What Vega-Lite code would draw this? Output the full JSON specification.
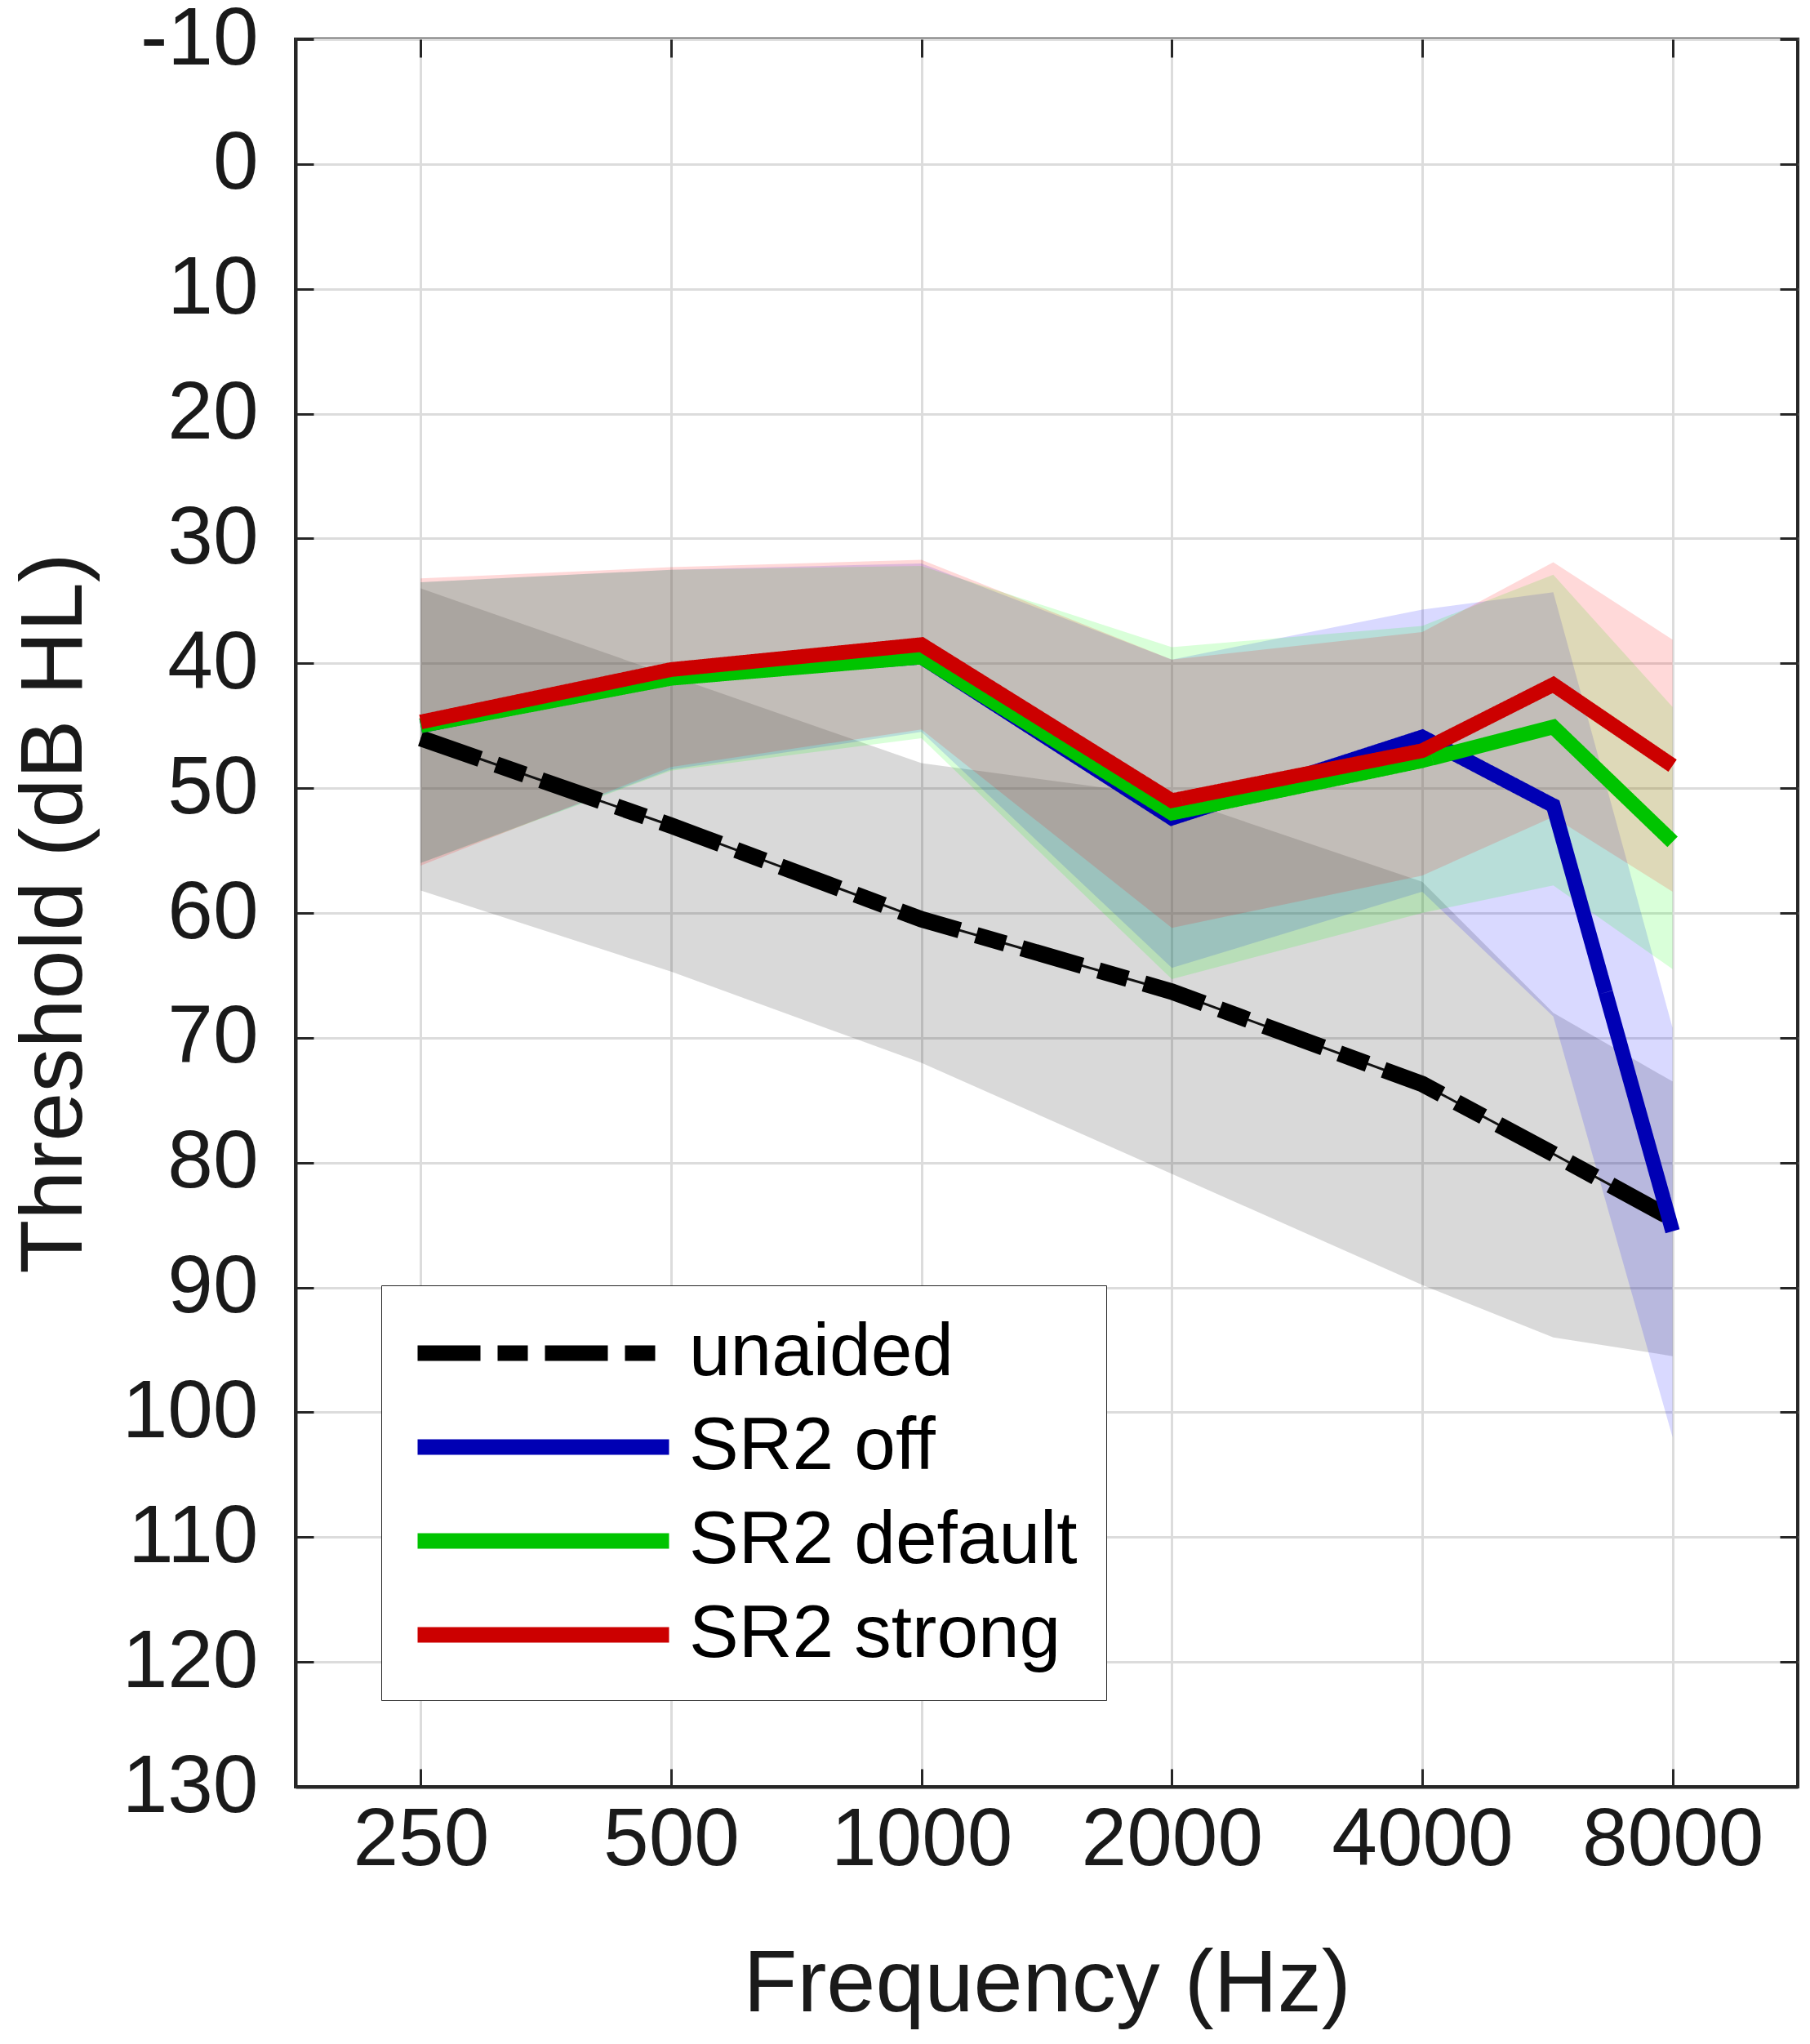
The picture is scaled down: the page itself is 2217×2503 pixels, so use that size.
{
  "$schema": "https://vega.github.io/schema/vega-lite/v6.json",
  "width": 1840,
  "height": 2140,
  "autosize": {"type": "none"},
  "padding": {"left": 362, "top": 48, "right": 15, "bottom": 315},
  "background": "white",
  "config": {
    "font": "Liberation Sans",
    "view": {"stroke": "#262626", "strokeWidth": 4},
    "axis": {
      "domainColor": "#262626",
      "domainWidth": 4,
      "gridColor": "#dcdcdc",
      "gridWidth": 3,
      "tickColor": "#262626",
      "tickWidth": 3,
      "tickSize": -22,
      "labelFont": "Liberation Sans",
      "labelFontSize": 100,
      "labelColor": "#1a1a1a",
      "labelLimit": 600,
      "labelExpr": "'' + datum.value",
      "titleFont": "Liberation Sans",
      "titleFontWeight": "normal",
      "titleColor": "#1a1a1a"
    },
    "axisX": {"labelPadding": 38, "titleFontSize": 108, "titlePadding": 74},
    "axisY": {"labelPadding": 68, "titleFontSize": 108, "titlePadding": 40}
  },
  "data": {
    "values": [
      {"series": "unaided", "freq": 250, "mean": 46, "lo": 34, "hi": 58.2},
      {"series": "unaided", "freq": 500, "mean": 53, "lo": 41, "hi": 64.7},
      {"series": "unaided", "freq": 1000, "mean": 60.5, "lo": 48, "hi": 72},
      {"series": "unaided", "freq": 2000, "mean": 66.3, "lo": 50.7, "hi": 80.9},
      {"series": "unaided", "freq": 4000, "mean": 73.7, "lo": 57.5, "hi": 89.8},
      {"series": "unaided", "freq": 5750, "mean": 79.3, "lo": 68, "hi": 94},
      {"series": "unaided", "freq": 8000, "mean": 84.5, "lo": 73.5, "hi": 95.5},
      {"series": "SR2 off", "freq": 250, "mean": 45, "lo": 33.5, "hi": 56},
      {"series": "SR2 off", "freq": 500, "mean": 41, "lo": 32.5, "hi": 48.5},
      {"series": "SR2 off", "freq": 1000, "mean": 39.5, "lo": 32, "hi": 45.5},
      {"series": "SR2 off", "freq": 2000, "mean": 52.4, "lo": 39.7, "hi": 64.4},
      {"series": "SR2 off", "freq": 4000, "mean": 45.9, "lo": 35.7, "hi": 58.3},
      {"series": "SR2 off", "freq": 5750, "mean": 51.4, "lo": 34.3, "hi": 68.3},
      {"series": "SR2 off", "freq": 8000, "mean": 85.5, "lo": 69.2, "hi": 102},
      {"series": "SR2 default", "freq": 250, "mean": 45, "lo": 33.5, "hi": 56},
      {"series": "SR2 default", "freq": 500, "mean": 41.2, "lo": 32.5, "hi": 48.6},
      {"series": "SR2 default", "freq": 1000, "mean": 39.5, "lo": 32.2, "hi": 46},
      {"series": "SR2 default", "freq": 2000, "mean": 52, "lo": 38.7, "hi": 65.3},
      {"series": "SR2 default", "freq": 4000, "mean": 47.8, "lo": 37, "hi": 60},
      {"series": "SR2 default", "freq": 5750, "mean": 45.1, "lo": 32.9, "hi": 57.8},
      {"series": "SR2 default", "freq": 8000, "mean": 54.3, "lo": 43.5, "hi": 64.5},
      {"series": "SR2 strong", "freq": 250, "mean": 44.7, "lo": 33.2, "hi": 56.2},
      {"series": "SR2 strong", "freq": 500, "mean": 40.5, "lo": 32.3, "hi": 48.3},
      {"series": "SR2 strong", "freq": 1000, "mean": 38.5, "lo": 31.7, "hi": 45.3},
      {"series": "SR2 strong", "freq": 2000, "mean": 51, "lo": 39.7, "hi": 61.2},
      {"series": "SR2 strong", "freq": 4000, "mean": 47, "lo": 37.5, "hi": 57},
      {"series": "SR2 strong", "freq": 5750, "mean": 41.7, "lo": 31.9, "hi": 52.3},
      {"series": "SR2 strong", "freq": 8000, "mean": 48.2, "lo": 38.1, "hi": 58.3}
    ]
  },
  "encoding": {
    "x": {
      "field": "freq",
      "type": "quantitative",
      "scale": {"type": "log", "base": 2, "domain": [176.78, 11313.7]},
      "axis": null
    }
  },
  "layer": [
    {
      "transform": [{"filter": "datum.series == 'unaided'"}],
      "mark": {"type": "area", "color": "#000000", "fillOpacity": 0.15, "strokeWidth": 0},
      "encoding": {
        "x": {
          "field": "freq",
          "type": "quantitative",
          "scale": {"type": "log", "base": 2, "domain": [176.78, 11313.7]},
          "axis": {
            "title": "Frequency (Hz)",
            "values": [250, 500, 1000, 2000, 4000, 8000]
          }
        },
        "y": {
          "field": "lo",
          "type": "quantitative",
          "scale": {"domain": [-10, 130], "reverse": true},
          "axis": {
            "title": "Threshold (dB HL)",
            "values": [-10, 0, 10, 20, 30, 40, 50, 60, 70, 80, 90, 100, 110, 120, 130]
          }
        },
        "y2": {"field": "hi"}
      }
    },
    {
      "transform": [{"filter": "datum.series == 'SR2 off'"}],
      "mark": {"type": "area", "color": "#0000ff", "fillOpacity": 0.15, "strokeWidth": 0},
      "encoding": {
        "y": {"field": "lo", "type": "quantitative", "axis": null},
        "y2": {"field": "hi"}
      }
    },
    {
      "transform": [{"filter": "datum.series == 'SR2 default'"}],
      "mark": {"type": "area", "color": "#00ff00", "fillOpacity": 0.15, "strokeWidth": 0},
      "encoding": {
        "y": {"field": "lo", "type": "quantitative", "axis": null},
        "y2": {"field": "hi"}
      }
    },
    {
      "transform": [{"filter": "datum.series == 'SR2 strong'"}],
      "mark": {"type": "area", "color": "#ff0000", "fillOpacity": 0.15, "strokeWidth": 0},
      "encoding": {
        "y": {"field": "lo", "type": "quantitative", "axis": null},
        "y2": {"field": "hi"}
      }
    },
    {
      "transform": [{"filter": "datum.series == 'unaided'"}],
      "mark": {"type": "line", "color": "#111111", "strokeWidth": 3},
      "encoding": {
        "x": {
          "field": "freq",
          "type": "quantitative",
          "axis": {
            "orient": "top",
            "title": null,
            "labels": false,
            "grid": false,
            "domain": false,
            "values": [250, 500, 1000, 2000, 4000, 8000]
          }
        },
        "y": {
          "field": "mean",
          "type": "quantitative",
          "axis": {
            "orient": "right",
            "title": null,
            "labels": false,
            "grid": false,
            "domain": false,
            "values": [-10, 0, 10, 20, 30, 40, 50, 60, 70, 80, 90, 100, 110, 120, 130]
          }
        }
      }
    },
    {
      "transform": [{"filter": "datum.series == 'unaided'"}],
      "mark": {"type": "line", "strokeWidth": 20},
      "encoding": {
        "y": {"field": "mean", "type": "quantitative", "axis": null},
        "color": {
          "field": "series",
          "type": "nominal",
          "scale": {
            "domain": ["unaided", "SR2 off", "SR2 default", "SR2 strong"],
            "range": ["#000000", "#0000b4", "#00c400", "#cc0000"]
          },
          "legend": {
            "orient": "none",
            "legendX": 105,
            "legendY": 1526,
            "title": null,
            "symbolType": "M-1,0H7",
            "symbolSize": 5929,
            "symbolStrokeWidth": 19,
            "symbolOpacity": 1,
            "labelFontSize": 91,
            "labelFont": "Liberation Sans",
            "labelColor": "#000000",
            "labelOffset": 246,
            "labelLimit": 1000,
            "padding": 35,
            "rowPadding": 22,
            "fillColor": "white",
            "strokeColor": "#262626"
          }
        },
        "strokeDash": {
          "field": "series",
          "type": "nominal",
          "scale": {
            "domain": ["unaided", "SR2 off", "SR2 default", "SR2 strong"],
            "range": [[77, 21, 37, 21], [1, 0], [1, 0], [1, 0]]
          }
        }
      }
    },
    {
      "transform": [{"filter": "datum.series == 'SR2 off'"}],
      "mark": {"type": "line", "strokeWidth": 18},
      "encoding": {
        "y": {"field": "mean", "type": "quantitative", "axis": null},
        "color": {"field": "series", "type": "nominal"},
        "strokeDash": {"field": "series", "type": "nominal"}
      }
    },
    {
      "transform": [{"filter": "datum.series == 'SR2 default'"}],
      "mark": {"type": "line", "strokeWidth": 18},
      "encoding": {
        "y": {"field": "mean", "type": "quantitative", "axis": null},
        "color": {"field": "series", "type": "nominal"},
        "strokeDash": {"field": "series", "type": "nominal"}
      }
    },
    {
      "transform": [{"filter": "datum.series == 'SR2 strong'"}],
      "mark": {"type": "line", "strokeWidth": 18},
      "encoding": {
        "y": {"field": "mean", "type": "quantitative", "axis": null},
        "color": {"field": "series", "type": "nominal"},
        "strokeDash": {"field": "series", "type": "nominal"}
      }
    }
  ],
  "resolve": {"axis": {"x": "independent", "y": "independent"}}
}
